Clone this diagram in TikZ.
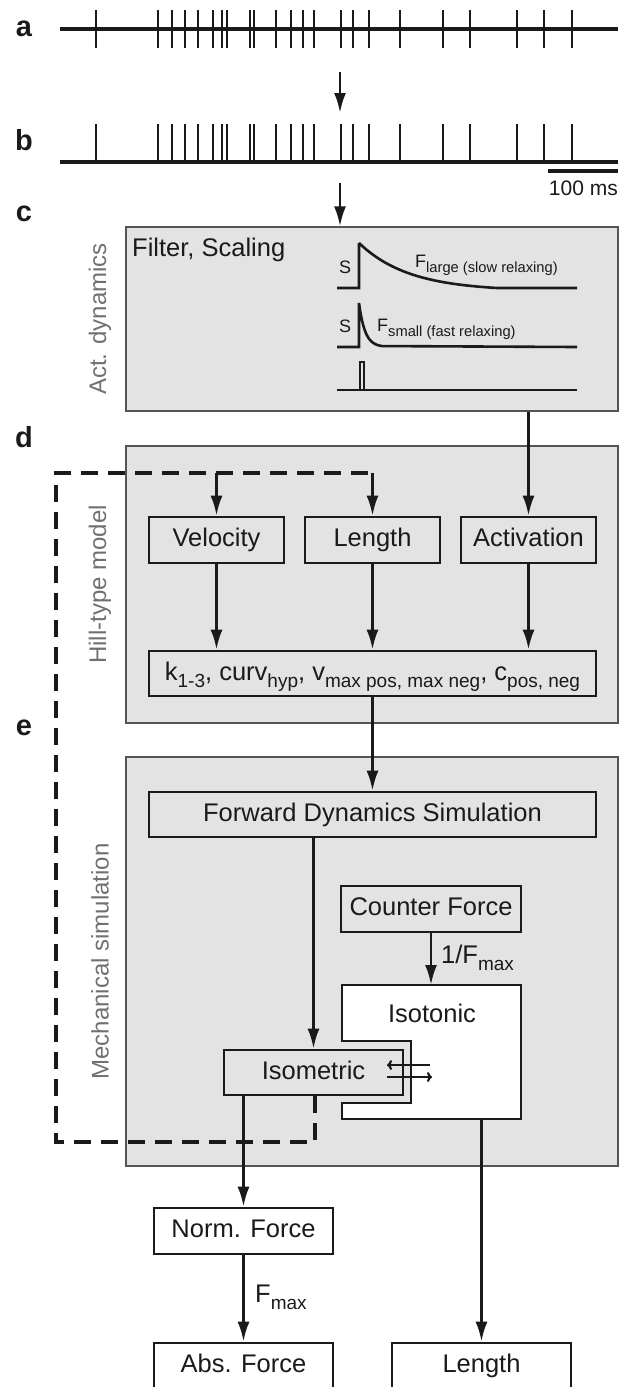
\documentclass[tikz,border=0pt]{standalone}
\usepackage{fontspec}
\setmainfont{Liberation Sans}
\usepackage{xcolor}
\usepackage{tikz}
\usetikzlibrary{positioning, arrows.meta, calc}

\definecolor{panelgray}{HTML}{E3E3E3}
\definecolor{framegray}{HTML}{555555}
\definecolor{labelgray}{HTML}{707070}
\definecolor{inkblack}{HTML}{1A1A1A}

% lowered small text (index)
\newcommand{\lowsub}[2][19]{\raisebox{-0.3em}{\fontsize{#1}{#1}\selectfont #2}}

\tikzset{
  train/.style={line width=3.2pt, draw=inkblack},
  spike/.style={line width=2.6pt, draw=inkblack},
  trace/.style={line width=2.6pt, draw=inkblack},
  panel/.style={draw=framegray, fill=panelgray, line width=1.2pt, inner sep=0, minimum width=492pt},
  sidetxt/.style={text=labelgray, rotate=90, font=\fontsize{24}{28}\selectfont},
  letter/.style={font=\bfseries\fontsize{29}{32}\selectfont, inner sep=0},
  blockbox/.style={draw=inkblack, line width=2.6pt, minimum height=46pt, inner sep=0, text height=18.5pt, text depth=5pt},
  flow/.style={line width=2.8pt, draw=inkblack, -{Latex[length=20pt, width=12pt]}},
  feedback/.style={line width=3.5pt, draw=inkblack, dash pattern=on 17pt off 10pt},
  swap/.style={line width=2.2pt, draw=inkblack, -{To[length=5pt, width=10pt]}},
  smalltxt/.style={inner sep=0, font=\fontsize{18}{20}\selectfont}
}

\begin{document}
\begin{tikzpicture}[x=1pt, y=-1pt, font=\fontsize{25.5}{30}\selectfont, text=inkblack]
    \useasboundingbox (0,0) rectangle (624,1387);

    % spike trains a and b
    \node[letter] (lbla) at (24,29) {a};
    \node[letter] (lblb) at (24,140) {b};
    \draw[train] (60,29) -- (618,29);
    \draw[train] (60,162) -- (618,162);
    \foreach \t in {96,158,172,185,198,213,222,227,250,254,276,291,303,314,341,353,369,400,443,470,517,544,572} {
      \draw[spike] (\t,10) -- (\t,48);
      \draw[spike] (\t,124) -- (\t,162);
    }
    \draw[train] (548,171) -- (618,171);
    \node[anchor=base east, inner sep=0, font=\fontsize{21}{24}\selectfont] (scalelbl) at (618,195) {100 ms};

    % c: activation dynamics
    \node[letter] (lblc) at (24,214) {c};
    \node[panel, minimum height=184pt] (actdyn) at (372,319) {};
    \node[sidetxt] (actlbl) at (100,319) {Act. dynamics};
    \node[anchor=base west, inner sep=0] (filt) at (132,256) {Filter, Scaling};
    \draw[trace] (337,288) -- (359,288) -- (359,243)
      -- plot[domain=0:138, samples=50] ({359+\x},{288-45*(exp(-\x/50)-0.0633)/0.9367}) -- (577,288);
    \draw[trace] (337,347) -- (359,347) -- (359,303)
      -- plot[domain=0:23, samples=30] ({359+\x},{347-44*exp(-\x/6)}) -- (577,347);
    \draw[trace] (337,390) -- (577,390);
    \draw[line width=1.5pt, draw=inkblack] (360,390) -- (360,362) -- (364,362) -- (364,390);
    \node[smalltxt, anchor=base west] (sbig) at (339,273) {S};
    \node[smalltxt, anchor=base west] (flarge) at (415,267) {F\lowsub[14.7]{large (slow relaxing)}};
    \node[smalltxt, anchor=base west] (ssmall) at (339,332) {S};
    \node[smalltxt, anchor=base west] (fsmall) at (377,331) {F\lowsub[14.7]{small (fast relaxing)}};

    % d: Hill-type model
    \node[letter] (lbld) at (24,437) {d};
    \node[panel, minimum height=277pt] (hill) at (372,584.5) {};
    \node[sidetxt] (hilllbl) at (100,584.5) {Hill-type model};
    \node[blockbox, minimum width=135pt] (vel) at (216.5,540) {Velocity};
    \node[blockbox, minimum width=135pt] (len) at (372.5,540) {Length};
    \node[blockbox, minimum width=135pt] (act) at (528.5,540) {Activation};
    \node[blockbox, minimum width=447pt, minimum height=45pt] (par) at (372.5,673.5)
      {k\lowsub{1-3}, curv\lowsub{hyp}, v\lowsub{max pos, max neg}, c\lowsub{pos, neg}};

    % e: mechanical simulation
    \node[letter] (lble) at (24,728) {e};
    \node[panel, minimum height=409pt] (mech) at (372,961.5) {};
    \node[sidetxt] (mechlbl) at (100,961.5) {Mechanical simulation};
    \node[blockbox, minimum width=447pt, minimum height=45pt] (fwd) at (372.5,814.5) {Forward Dynamics Simulation};
    \node[blockbox, minimum width=180pt] (cf) at (431,909) {Counter Force};
    \draw[line width=2.6pt, draw=inkblack, fill=white] (342,985) -- (521,985) -- (521,1119) -- (342,1119)
      -- (342,1103) -- (411,1103) -- (411,1041) -- (342,1041) -- cycle;
    \node[inner sep=0] (isot) at (432,1013) {Isotonic};
    \node[blockbox, minimum width=179pt, minimum height=45pt] (isom) at (313.5,1072.5) {Isometric};

    % outputs
    \node[blockbox, minimum width=179pt, fill=white] (norm) at (243.5,1231) {Norm. Force};
    \node[blockbox, minimum width=179pt, fill=white] (absf) at (243.5,1366) {Abs. Force};
    \node[blockbox, minimum width=179pt, fill=white] (lenout) at (481.5,1366) {Length};

    % connectors
    \coordinate (aout) at (340,72);
    \coordinate (bin) at (340,113);
    \coordinate (bout) at (340,183);
    \draw[flow] (aout) -- (bin);
    \draw[flow] (bout) -- (bout |- actdyn.north);
    \draw[flow] (actdyn.south -| act.north) -- (act.north);
    \draw[flow] (vel.south) -- (vel.south |- par.north);
    \draw[flow] (len.south) -- (len.south |- par.north);
    \draw[flow] (act.south) -- (act.south |- par.north);
    \draw[flow] (par.south) -- (fwd.north);
    \draw[flow] (fwd.south -| isom.north) -- (isom.north);
    \coordinate (isottop) at (431,985);
    \draw[flow] (cf.south) -- (isottop);
    \node[anchor=base west, inner sep=0] (invfmax) at (441,963) {1/F\lowsub{max}};
    \draw[flow] (isom.south -| norm.north) -- (norm.north);
    \draw[flow] (norm.south) -- (absf.north);
    \node[anchor=base west, inner sep=0] (fmaxlbl) at (255,1302) {F\lowsub{max}};
    \coordinate (isotbot) at (481.5,1119);
    \draw[flow] (isotbot) -- (lenout.north);

    % exchange isometric <-> isotonic
    \coordinate (xchgA) at (430,1065);
    \coordinate (xchgB) at (387,1065);
    \coordinate (xchgC) at (387,1077);
    \coordinate (xchgD) at (432,1077);
    \draw[swap] (xchgA) -- (xchgB);
    \draw[swap] (xchgC) -- (xchgD);

    % feedback loop (dashed)
    \coordinate (fbdown) at (315,1142);
    \coordinate (fbleft) at (56,1142);
    \coordinate (fbup) at (56,473);
    \coordinate (fbright) at (372.5,473);
    \coordinate (fbvel) at (216.5,473);
    \draw[feedback] (isom.south -| fbdown) -- (fbdown) -- (fbleft) -- (fbup) -- (fbright);
    \draw[flow] (fbvel) -- (vel.north);
    \draw[flow] (fbright) -- (len.north);
\end{tikzpicture}
\end{document}
